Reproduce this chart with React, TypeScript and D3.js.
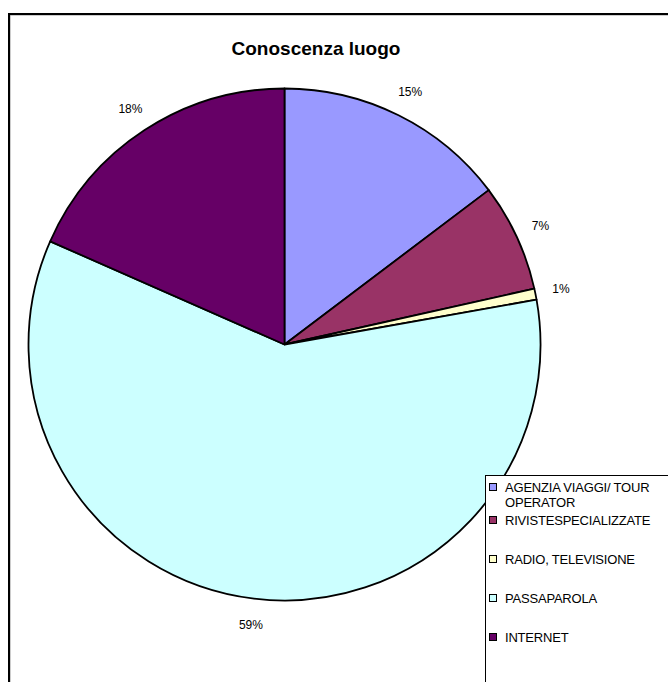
import { useRef, useEffect } from 'react'
import * as d3 from 'd3'

const TITLE = 'Conoscenza luogo'
const CATEGORIES = ['AGENZIA VIAGGI/ TOUR\nOPERATOR', 'RIVISTESPECIALIZZATE', 'RADIO, TELEVISIONE', 'PASSAPAROLA', 'INTERNET']
const VALUES = [14.7, 6.8, 0.7, 59.4, 18.4]
const COLORS = ['#9999FF', '#993366', '#FFFFCC', '#CCFFFF', '#660066']

interface Slice {
  name: string
  value: number
  color: string
}

const W = 668
const H = 682
const FONT = 'Arial, "Liberation Sans", sans-serif'

export default function App() {
  const svgRef = useRef<SVGSVGElement>(null)

  useEffect(() => {
    if (!svgRef.current) return
    const svg = d3.select(svgRef.current)
    svg.selectAll('*').remove()

    const data: Slice[] = CATEGORIES.map((name, i) => ({ name, value: VALUES[i], color: COLORS[i] }))
    const total = d3.sum(data, (d) => d.value)

    // chart area frame (runs off the page on right and bottom)
    svg.append('rect')
      .attr('x', 10).attr('y', 15).attr('width', 700).attr('height', 700)
      .attr('fill', 'none').attr('stroke', '#999').attr('stroke-width', 1)
    svg.append('rect')
      .attr('x', 9).attr('y', 14).attr('width', 700).attr('height', 700)
      .attr('fill', 'none').attr('stroke', '#000').attr('stroke-width', 2)

    svg.append('text')
      .attr('x', 316).attr('y', 55)
      .attr('text-anchor', 'middle')
      .attr('font-family', FONT)
      .attr('font-size', '19px')
      .attr('font-weight', '700')
      .attr('fill', '#000')
      .text(TITLE)

    const cx = 284.5
    const cy = 344.5
    const radius = 256

    const g = svg.append('g').attr('transform', `translate(${cx},${cy})`)

    const pie = d3.pie<Slice>().value((d) => d.value).sort(null)
    const arc = d3.arc<d3.PieArcDatum<Slice>>().innerRadius(0).outerRadius(radius)
    const labelArc = d3.arc<d3.PieArcDatum<Slice>>().innerRadius(radius + 26).outerRadius(radius + 26)

    const arcs = pie(data)

    g.selectAll('path')
      .data(arcs)
      .join('path')
      .attr('d', arc)
      .attr('fill', (d) => d.data.color)
      .attr('stroke', '#000')
      .attr('stroke-width', 1.8)
      .attr('stroke-linejoin', 'round')

    g.selectAll('text.pct')
      .data(arcs)
      .join('text')
      .attr('class', 'pct')
      .attr('transform', (d) => {
        const [x, y] = labelArc.centroid(d)
        return `translate(${x},${y})`
      })
      .attr('text-anchor', 'middle')
      .attr('dy', '0.35em')
      .attr('font-family', FONT)
      .attr('font-size', '12px')
      .attr('fill', '#000')
      .text((d) => `${Math.round((d.data.value / total) * 100)}%`)

    // legend
    const lx = 485
    const ly = 475
    svg.append('rect')
      .attr('x', lx + 0.5).attr('y', ly + 0.5).attr('width', 300).attr('height', 300)
      .attr('fill', '#fff').attr('stroke', '#000').attr('stroke-width', 1)

    const rowY = d3.scalePoint<string>().domain(CATEGORIES).range([ly + 6, ly + 162])
    const rows = svg.append('g')
      .selectAll('g')
      .data(data)
      .join('g')
      .attr('transform', (d, i) => `translate(${lx}, ${i === 0 ? ly + 12 : (rowY(d.name) as number)})`)

    rows.append('rect')
      .attr('x', 4.5).attr('y', -3.5).attr('width', 7).attr('height', 7)
      .attr('fill', (d) => d.color).attr('stroke', '#000').attr('stroke-width', 1)

    rows.append('text')
      .attr('font-family', FONT)
      .attr('font-size', '13px')
      .attr('fill', '#000')
      .attr('letter-spacing', '-0.2px')
      .each(function (d) {
        const t = d3.select(this)
        d.name.split('\n').forEach((line, j) => {
          t.append('tspan').attr('x', 20).attr('y', j * 15).attr('dy', '0.35em').text(line)
        })
      })
  }, [])

  return (
    <svg
      ref={svgRef}
      width={W}
      height={H}
      style={{ position: 'absolute', left: 0, top: 0, background: '#fff' }}
    />
  )
}
